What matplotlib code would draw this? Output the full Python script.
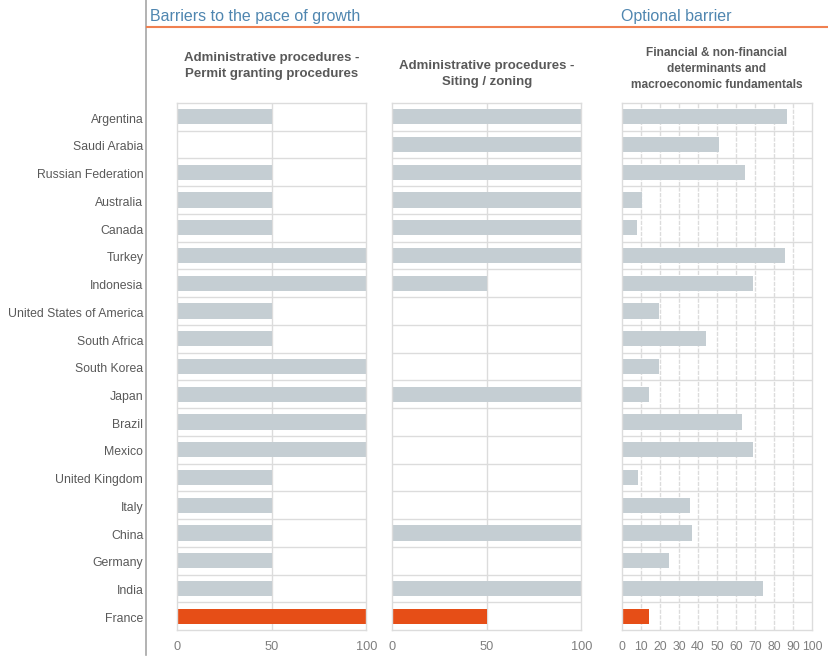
import matplotlib
matplotlib.use("Agg")
import matplotlib.pyplot as plt
from matplotlib.lines import Line2D

plt.rcParams['font.family'] = ['Liberation Sans', 'DejaVu Sans']

countries = ["Argentina", "Saudi Arabia", "Russian Federation", "Australia", "Canada",
             "Turkey", "Indonesia", "United States of America", "South Africa", "South Korea",
             "Japan", "Brazil", "Mexico", "United Kingdom", "Italy", "China", "Germany",
             "India", "France"]
permit = [50, 0, 50, 50, 50, 100, 100, 50, 50, 100, 100, 100, 100, 50, 50, 50, 50, 50, 100]
siting = [100, 100, 100, 100, 100, 100, 50, 0, 0, 0, 100, 0, 0, 0, 0, 100, 0, 100, 50]
financial = [87, 51, 65, 10.5, 8, 86, 69, 19.5, 44, 19.5, 14, 63, 69, 8.5, 36, 37, 24.5, 74, 14]

titles = ["Administrative procedures -\nPermit granting procedures",
          "Administrative procedures -\nSiting / zoning",
          "Financial & non-financial\ndeterminants and\nmacroeconomic fundamentals"]
header_left = "Barriers to the pace of growth"
header_right = "Optional barrier"

ticks12 = [0, 50, 100]
ticks3 = [0, 10, 20, 30, 40, 50, 60, 70, 80, 90, 100]

GRAY = "#c5ced3"
ORANGE = "#e64e17"
GRID = "#dcdcdc"
TXT = "#595959"

W, H = 829, 657
fig = plt.figure(figsize=(W / 100, H / 100), dpi=100)

def ax_rect(x0, x1, y0=103, y1=630):
    return [x0 / W, 1 - y1 / H, (x1 - x0) / W, (y1 - y0) / H]

rects = [ax_rect(177, 366.5), ax_rect(392.5, 581.5), ax_rect(622, 812)]
datas = [permit, siting, financial]
tickss = [ticks12, ticks12, ticks3]
title_y = [66, 74, 69]

n = len(countries)
ypos = list(range(n))
colors = [ORANGE if c == "France" else GRAY for c in countries]

for i, (r, d, tk) in enumerate(zip(rects, datas, tickss)):
    ax = fig.add_axes(r)
    ax.barh(ypos, d, height=0.55, color=colors, zorder=2)
    ax.set_xlim(0, 100)
    ax.set_ylim(n - 0.5, -0.5)
    ax.set_yticks([])
    ax.set_xticks(tk)
    ax.set_xticklabels([str(t) for t in tk], fontsize=9.2 if i < 2 else 8.8, color="#7f7f7f")
    ax.tick_params(axis='x', length=0, pad=8)
    for s in ax.spines.values():
        s.set_color(GRID)
        s.set_linewidth(1.0)
    for k in range(1, n):
        ax.axhline(k - 0.5, color=GRID, lw=1.0, zorder=1)
    for t in tk[1:-1]:
        ax.axvline(t, color=GRID, lw=1.0, zorder=1,
                   linestyle='-' if i < 2 else (0, (3, 1)))
    if i == 0:
        for k, c in enumerate(countries):
            ax.text(-0.178, k + 0.1, c, transform=ax.get_yaxis_transform(), ha='right',
                    va='center', fontsize=8.8, color=TXT)
    cx = (r[0] + r[2] / 2)
    fig.text(cx, 1 - title_y[i] / H, titles[i], ha='center', va='center',
             fontsize=9.5 if i < 2 else 8.6, fontweight='bold', color=TXT,
             linespacing=1.45)

fig.add_artist(Line2D([146 / W, 146 / W], [1 - 0 / H, 1 - 655 / H], color="#a6a6a6", lw=1.2))
fig.add_artist(Line2D([147 / W, 1.0], [1 - 27 / H, 1 - 27 / H], color="#f08050", lw=1.5))
fig.text(150 / W, 1 - 16 / H, header_left, ha='left', va='center', fontsize=11.5,
         color="#4f86b0")
fig.text(621 / W, 1 - 16 / H, header_right, ha='left', va='center', fontsize=11.5,
         color="#4f86b0")

fig.savefig("out.png", dpi=100, facecolor='white')
